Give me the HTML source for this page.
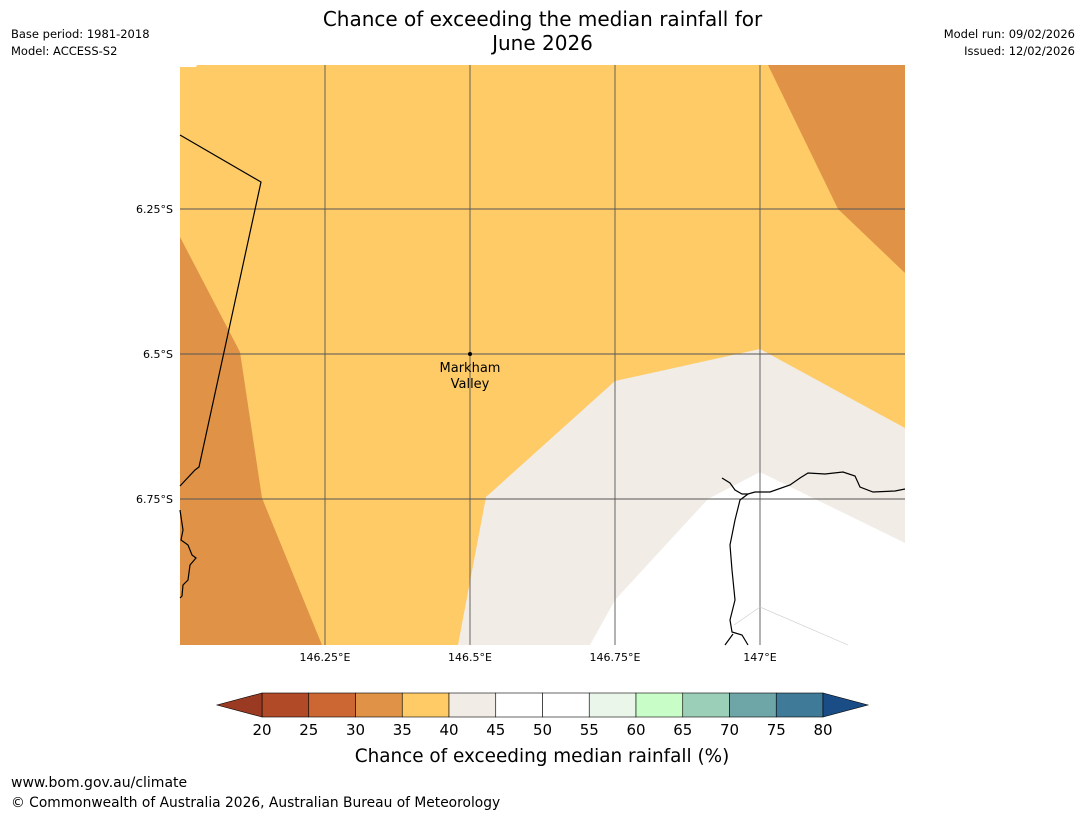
<!DOCTYPE html>
<html><head><meta charset="utf-8"><style>
body{margin:0;background:#fff;width:1085px;height:816px;overflow:hidden;font-family:"DejaVu Sans","Liberation Sans",sans-serif;position:relative}
.t{position:absolute;white-space:nowrap;color:#000}
</style></head><body>
<div class="t" style="left:0;width:1085px;top:7px;text-align:center;font-size:20px;line-height:24px">Chance of exceeding the median rainfall for<br>June 2026</div>
<div class="t" style="left:11px;top:27px;font-size:11.5px">Base period: 1981-2018</div>
<div class="t" style="left:11px;top:44px;font-size:11.5px">Model: ACCESS-S2</div>
<div class="t" style="right:10px;top:27px;font-size:11.5px">Model run: 09/02/2026</div>
<div class="t" style="right:10px;top:44px;font-size:11.5px">Issued: 12/02/2026</div>
<div class="t" style="left:11px;top:775px;font-size:14px">www.bom.gov.au/climate</div>
<div class="t" style="left:11px;top:795px;font-size:13.8px">© Commonwealth of Australia 2026, Australian Bureau of Meteorology</div>
<svg id="svg" width="1085" height="816" style="position:absolute;left:0;top:0">
<g>
<rect x="180" y="65" width="725" height="580" fill="#fecb67"/>
<polygon points="180,65 197,65 196,67 180,67" fill="#fff"/>
<polygon points="768,65 838,209 905,273 905,65" fill="#e09347"/>
<polygon points="180,237 240,352 262,498 322,645 180,645" fill="#e09347"/>
<polygon points="458,645 486,497 615,381 760,349 905,428 905,645" fill="#f1ece6"/>
<polygon points="590,645 615,600 708,499 760,472 905,543 905,645" fill="#fff"/>
<g stroke="#555" stroke-width="0.9">
<line x1="325" y1="65" x2="325" y2="645"/><line x1="470" y1="65" x2="470" y2="645"/><line x1="615" y1="65" x2="615" y2="645"/><line x1="760" y1="65" x2="760" y2="645"/>
<line x1="180" y1="209" x2="905" y2="209"/><line x1="180" y1="354" x2="905" y2="354"/><line x1="180" y1="499" x2="905" y2="499"/>
</g>
<g fill="none" stroke="#000" stroke-width="1.2">
<polyline points="180,135 261,182 199,467 195,470 180,486"/>
<polyline points="180,510 183,530 181,540 188,545 192,555 196,558 190,565 188,580 183,585 182,596 180,598"/>
<polyline points="722,478 730,483 735,490 742,494 748,494 755,492 770,492 790,485 800,478 808,473 825,474 843,472 855,476 860,487 873,492 895,491 905,489"/>
<polyline points="748,494 740,500 735,520 730,545 732,570 735,600 730,620 732,632 742,635 748,645"/>
<polyline points="733,634 725,645"/>
</g>
<line x1="760" y1="607" x2="848" y2="645" stroke="#ccc" stroke-width="0.6"/>
<line x1="760" y1="607" x2="734" y2="625" stroke="#ccc" stroke-width="0.6"/>
<circle cx="470" cy="354" r="2" fill="#000"/>
<text x="470" y="372" font-size="13" text-anchor="middle">Markham</text>
<text x="470" y="388" font-size="13" text-anchor="middle">Valley</text>
</g>
<g font-size="11">
<text x="173" y="213" text-anchor="end">6.25°S</text><text x="173" y="358" text-anchor="end">6.5°S</text><text x="173" y="503" text-anchor="end">6.75°S</text>
<text x="325" y="661" text-anchor="middle">146.25°E</text><text x="470" y="661" text-anchor="middle">146.5°E</text><text x="615" y="661" text-anchor="middle">146.75°E</text><text x="760" y="661" text-anchor="middle">147°E</text>
</g>
<g id="cbar"></g>
<text x="542" y="762" font-size="18.4" text-anchor="middle">Chance of exceeding median rainfall (%)</text>
</svg>
<script>
const ticks=[20,25,30,35,40,45,50,55,60,65,70,75,80];
const colors=["#b04a27","#cc6633","#e09347","#fecb67","#f1ece6","#ffffff","#ffffff","#ebf6ea","#c8fdc8","#9bcfb8","#6ea6a8","#3f7a98"];
const g=document.getElementById('cbar');const NS="http://www.w3.org/2000/svg";
const x0=262,x1=823,y0=693,h=24;
const sx=v=>x0+(v-ticks[0])/(ticks[ticks.length-1]-ticks[0])*(x1-x0);
colors.forEach((c,i)=>{const r=document.createElementNS(NS,'rect');
r.setAttribute('x',sx(ticks[i]));r.setAttribute('y',y0);r.setAttribute('width',sx(ticks[i+1])-sx(ticks[i]));r.setAttribute('height',h);
r.setAttribute('fill',c);r.setAttribute('stroke','#000');r.setAttribute('stroke-width','0.6');


g.appendChild(r);});
[[`${x0},${y0} ${x0},${y0+h} 217,${y0+h/2}`,'#9a3a22','colorbar-low-arrow'],[`${x1},${y0} ${x1},${y0+h} 868,${y0+h/2}`,'#1a4d85','colorbar-high-arrow']].forEach(a=>{
const p=document.createElementNS(NS,'polygon');p.setAttribute('points',a[0]);p.setAttribute('fill',a[1]);p.setAttribute('stroke','#000');p.setAttribute('stroke-width','0.6');


g.appendChild(p);});
ticks.forEach(v=>{const t=document.createElementNS(NS,'text');t.setAttribute('x',sx(v));t.setAttribute('y',735);t.setAttribute('font-size','15');t.setAttribute('text-anchor','middle');t.textContent=v;


g.appendChild(t);});
</script>
</body></html>
